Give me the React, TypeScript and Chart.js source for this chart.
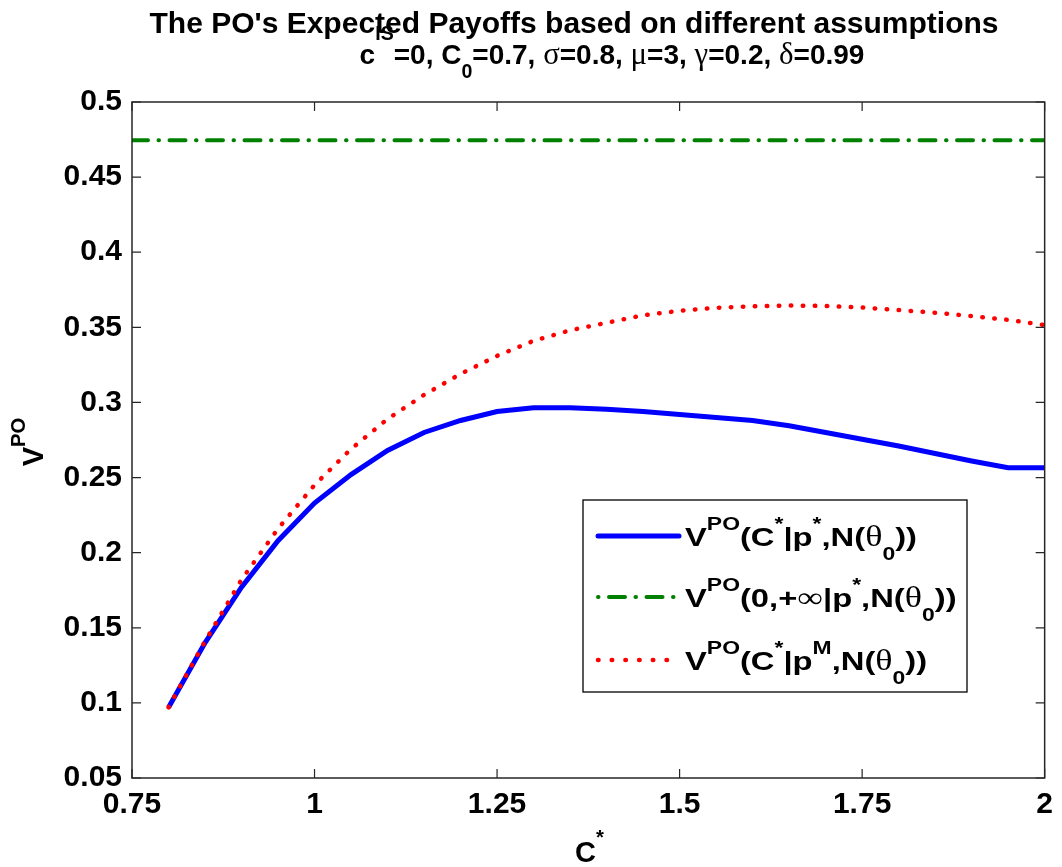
import React, { useEffect, useRef } from "react";
import { Chart, registerables } from "chart.js";

Chart.register(...registerables);

const cStar = [0.8, 0.85, 0.9, 0.95, 1.0, 1.05, 1.1, 1.15, 1.2, 1.25, 1.3, 1.35, 1.4, 1.45, 1.5, 1.55, 1.6, 1.65, 1.7, 1.75, 1.8, 1.85, 1.9, 1.95, 2.0];
const vOptimal = [0.097, 0.14, 0.177, 0.208, 0.233, 0.252, 0.268, 0.28, 0.288, 0.294, 0.2965, 0.2965, 0.2955, 0.294, 0.292, 0.29, 0.288, 0.2845, 0.28, 0.2755, 0.271, 0.266, 0.261, 0.2565, 0.2565];
const vMyopic = [0.097, 0.141, 0.182, 0.216, 0.245, 0.269, 0.289, 0.305, 0.319, 0.331, 0.341, 0.348, 0.353, 0.358, 0.361, 0.363, 0.364, 0.3645, 0.3642, 0.3632, 0.3615, 0.3597, 0.3575, 0.355, 0.3515];
const flatX = [0.75, 2.0];
const flatValue = 0.4745;

const xTicks = [0.75, 1, 1.25, 1.5, 1.75, 2];
const xTickLabels = ["0.75", "1", "1.25", "1.5", "1.75", "2"];
const yTicks = [0.05, 0.1, 0.15, 0.2, 0.25, 0.3, 0.35, 0.4, 0.45, 0.5];
const yTickLabels = ["0.05", "0.1", "0.15", "0.2", "0.25", "0.3", "0.35", "0.4", "0.45", "0.5"];

type Seg = { t: string; k?: "sup" | "sub"; g?: boolean };

const SANS = '"Liberation Sans", Arial, sans-serif';
const SERIF = '"Liberation Serif", serif';

function segFont(s: Seg, size: number) {
  const sz = s.k ? size * 0.7 : size;
  return s.g ? `${sz * 1.1}px ${SERIF}` : `bold ${sz}px ${SANS}`;
}

function richWidth(ctx: CanvasRenderingContext2D, segs: Seg[], size: number) {
  let w = 0;
  for (const s of segs) {
    ctx.font = segFont(s, size);
    w += ctx.measureText(s.t).width;
  }
  return w;
}

function drawRich(ctx: CanvasRenderingContext2D, segs: Seg[], x: number, y: number, size: number, supOff = 0.62, subOff = 0.55) {
  let cx = x;
  ctx.textBaseline = "alphabetic";
  ctx.textAlign = "left";
  for (const s of segs) {
    ctx.font = segFont(s, size);
    let dy = 0;
    if (s.k === "sup") dy = -supOff * size;
    if (s.k === "sub") dy = subOff * size;
    ctx.fillText(s.t, cx, y + dy);
    cx += ctx.measureText(s.t).width;
  }
}

const title1: Seg[] = [{ t: "The PO's Expected Payoffs based on different assumptions" }];
const title2: Seg[] = [
  { t: "c" }, { t: "IS", k: "sup" }, { t: "=0, C" }, { t: "0", k: "sub" }, { t: "=0.7, " },
  { t: "σ", g: true }, { t: "=0.8, " }, { t: "μ", g: true }, { t: "=3, " },
  { t: "γ", g: true }, { t: "=0.2, " }, { t: "δ", g: true }, { t: "=0.99" },
];
const legendItems: Seg[][] = [
  [{ t: "V" }, { t: "PO", k: "sup" }, { t: "(C" }, { t: "*", k: "sup" }, { t: "|p" }, { t: "*", k: "sup" }, { t: ",N(" }, { t: "θ", g: true }, { t: "0", k: "sub" }, { t: "))" }],
  [{ t: "V" }, { t: "PO", k: "sup" }, { t: "(0,+" }, { t: "∞", g: true }, { t: "|p" }, { t: "*", k: "sup" }, { t: ",N(" }, { t: "θ", g: true }, { t: "0", k: "sub" }, { t: "))" }],
  [{ t: "V" }, { t: "PO", k: "sup" }, { t: "(C" }, { t: "*", k: "sup" }, { t: "|p" }, { t: "M", k: "sup" }, { t: ",N(" }, { t: "θ", g: true }, { t: "0", k: "sub" }, { t: "))" }],
];
const yLabel: Seg[] = [{ t: "V" }, { t: "PO", k: "sup" }];
const xLabel: Seg[] = [{ t: "C" }, { t: "*", k: "sup" }];

const colors = ["#0000ff", "#008000", "#ff0000"];
const widths = [5, 4, 4.5];
const dashes = [[], [16, 10.5, 0.5, 10.5], [0.5, 11.5]];
const legendDashes = [[], [0.5, 10.5, 16, 10.5], [0.5, 13.2]];

const decorPlugin = {
  id: "decor",
  afterDatasetsDraw(chart: any) {
    const ctx: CanvasRenderingContext2D = chart.ctx;
    const { left, right, top, bottom } = chart.chartArea;
    const xs = chart.scales.x;
    const ys = chart.scales.y;
    ctx.save();
    // box
    ctx.strokeStyle = "#262626";
    ctx.lineWidth = 1.5;
    ctx.setLineDash([]);
    ctx.strokeRect(left, top, right - left, bottom - top);
    // inward ticks
    ctx.lineWidth = 1.2;
    const tl = 9;
    ctx.beginPath();
    for (const v of xTicks) {
      const px = xs.getPixelForValue(v);
      ctx.moveTo(px, bottom); ctx.lineTo(px, bottom - tl);
      ctx.moveTo(px, top); ctx.lineTo(px, top + tl);
    }
    for (const v of yTicks) {
      const py = ys.getPixelForValue(v);
      ctx.moveTo(left, py); ctx.lineTo(left + tl, py);
      ctx.moveTo(right, py); ctx.lineTo(right - tl, py);
    }
    ctx.stroke();

    // legend
    const lx = 583, ly = 500, lw = 384, lh = 192;
    ctx.fillStyle = "#ffffff";
    ctx.fillRect(lx, ly, lw, lh);
    ctx.strokeStyle = "#000000";
    ctx.lineWidth = 1.3;
    ctx.strokeRect(lx, ly, lw, lh);
    const rows = [536, 597, 660];
    const lsize = 26;
    const target = 232;
    const sx = target / richWidth(ctx, legendItems[0], lsize);
    [0, 1, 2].forEach((i, r) => {
      const yy = rows[r];
      ctx.strokeStyle = colors[i];
      ctx.lineWidth = widths[i];
      ctx.lineCap = "round";
      ctx.setLineDash(legendDashes[i]);
      ctx.beginPath();
      ctx.moveTo(598, yy);
      ctx.lineTo(679, yy);
      ctx.stroke();
      ctx.setLineDash([]);
      ctx.fillStyle = "#000000";
      ctx.save();
      ctx.translate(685, yy + 10);
      ctx.scale(sx, 1);
      drawRich(ctx, legendItems[i], 0, 0, lsize, 0.6, 0.52);
      ctx.restore();
    });

    // titles
    ctx.fillStyle = "#000000";
    const w1 = richWidth(ctx, title1, 30);
    drawRich(ctx, title1, 574 - w1 / 2, 33, 30);
    const w2 = richWidth(ctx, title2, 28);
    drawRich(ctx, title2, 612 - w2 / 2, 64, 28, 0.85, 0.5);

    // x label
    drawRich(ctx, xLabel, 575, 862, 29);
    // y label
    ctx.save();
    ctx.translate(43, 442);
    ctx.rotate(-Math.PI / 2);
    const wy = richWidth(ctx, yLabel, 29);
    drawRich(ctx, yLabel, -wy / 2, 0, 29);
    ctx.restore();
    ctx.restore();
  },
};

export default function App() {
  const ref = useRef<HTMLCanvasElement | null>(null);
  useEffect(() => {
    if (!ref.current) return;
    const chart = new Chart(ref.current, {
      type: "line",
      data: {
        datasets: [
          {
            label: "V^PO(C*|p*,N(θ0))",
            data: cStar.map((x, i) => ({ x, y: vOptimal[i] })),
            borderColor: colors[0],
            borderWidth: widths[0],
            pointRadius: 0,
            fill: false,
            tension: 0,
            order: 1,
          },
          {
            label: "V^PO(0,+∞|p*,N(θ0))",
            data: flatX.map((x) => ({ x, y: flatValue })),
            borderColor: colors[1],
            borderWidth: widths[1],
            borderDash: dashes[1],
            borderCapStyle: "round",
            pointRadius: 0,
            fill: false,
            order: 2,
          },
          {
            label: "V^PO(C*|pM,N(θ0))",
            data: cStar.map((x, i) => ({ x, y: vMyopic[i] })),
            borderColor: colors[2],
            borderWidth: widths[2],
            borderDash: dashes[2],
            borderCapStyle: "round",
            pointRadius: 0,
            fill: false,
            tension: 0,
            order: 0,
          },
        ],
      },
      options: {
        animation: false,
        responsive: false,
        maintainAspectRatio: false,
        layout: { padding: { left: 0, right: 13, top: 102, bottom: 0 } },
        plugins: { legend: { display: false }, title: { display: false }, tooltip: { enabled: false } },
        scales: {
          x: {
            type: "linear",
            min: 0.75,
            max: 2,
            grid: { display: false, drawTicks: false },
            border: { display: false },
            afterBuildTicks: (s: any) => { s.ticks = xTicks.map((v) => ({ value: v })); },
            afterFit: (s: any) => { s.height = 89; },
            ticks: {
              color: "#000",
              padding: 9,
              maxRotation: 0,
              autoSkip: false,
              font: { family: SANS, size: 30, weight: "bold" },
              callback: (v: any) => { const i = xTicks.indexOf(Number(v)); return i >= 0 ? xTickLabels[i] : ""; },
            },
          },
          y: {
            type: "linear",
            min: 0.05,
            max: 0.5,
            grid: { display: false, drawTicks: false },
            border: { display: false },
            afterBuildTicks: (s: any) => { s.ticks = yTicks.map((v) => ({ value: v })); },
            afterFit: (s: any) => { s.width = 132; },
            ticks: {
              color: "#000",
              padding: 10,
              autoSkip: false,
              font: { family: SANS, size: 30, weight: "bold" },
              callback: (v: any) => { const i = yTicks.findIndex((t) => Math.abs(t - Number(v)) < 1e-9); return i >= 0 ? yTickLabels[i] : ""; },
            },
          },
        },
      },
      plugins: [decorPlugin],
    } as any);
    return () => chart.destroy();
  }, []);
  return (
    <div style={{ position: "fixed", left: 0, top: 0, width: 1062, height: 867, background: "#fff" }}>
      <canvas ref={ref} width={1062} height={867} style={{ width: 1062, height: 867, display: "block" }} />
    </div>
  );
}
